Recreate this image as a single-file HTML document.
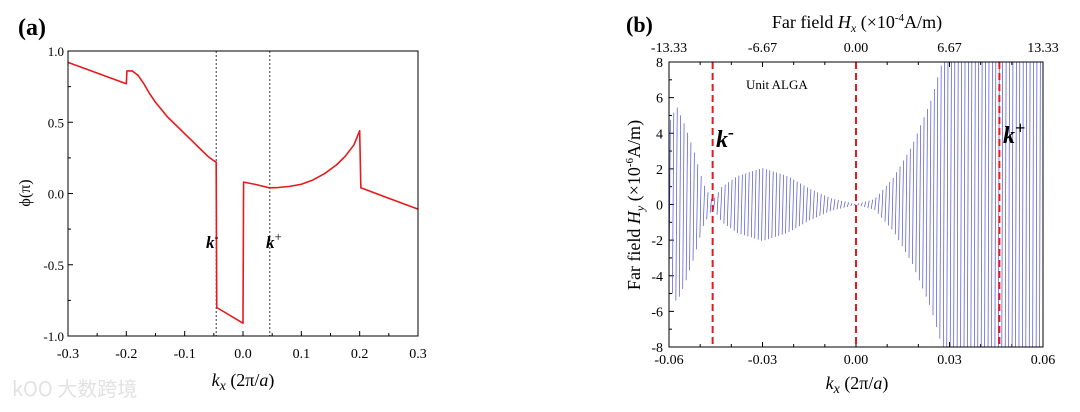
<!DOCTYPE html>
<html><head><meta charset="utf-8"><style>
html,body{margin:0;padding:0;background:#fff;width:1080px;height:412px;overflow:hidden;}
svg{display:block;font-family:"Liberation Serif",serif;overflow:hidden;}
</style></head><body>
<svg width="1080" height="412" viewBox="0 0 1080 412" id="svg">
<text x="18" y="35" font-size="24" font-weight="bold">(a)</text>
<text x="626" y="32" font-size="22" font-weight="bold">(b)</text>
<g id="ga"></g>
<g id="gb"></g>
<text x="12" y="396" font-size="20" fill="#e2e2e2" font-family="'Noto Sans CJK SC',sans-serif">kOO 大数跨境</text>
</svg>
<script>
const NS="http://www.w3.org/2000/svg";
// ---- chart (a) data ----
const aK=[-0.3,-0.2,-0.199,-0.19,-0.18,-0.17,-0.16,-0.15,-0.14,-0.13,-0.12,-0.11,-0.1,-0.09,-0.08,-0.07,-0.06,-0.05,-0.046,-0.045,0,0.001,0.02,0.045,0.06,0.08,0.1,0.12,0.14,0.16,0.175,0.19,0.2,0.202,0.3];
const aPhi=[0.92,0.77,0.86,0.86,0.83,0.77,0.70,0.64,0.59,0.54,0.50,0.46,0.42,0.38,0.34,0.30,0.26,0.23,0.22,-0.8,-0.91,0.08,0.065,0.04,0.042,0.05,0.065,0.095,0.14,0.2,0.26,0.34,0.44,0.04,-0.11];
const aXTicks=[-0.3,-0.2,-0.1,0.0,0.1,0.2,0.3];
const aXTickLabels=["-0.3","-0.2","-0.1","0.0","0.1","0.2","0.3"];
const aYTicks=[1,0.5,0,-0.5,-1];
const aYTickLabels=["1.0","0.5","0.0","-0.5","-1.0"];
const aMarkers=[-0.046,0.046];
// ---- chart (b) data ----
const bEnvK=[-0.06,-0.0575,-0.055,-0.052,-0.049,-0.046,-0.043,-0.038,-0.03,-0.022,-0.015,-0.008,0,0.006,0.012,0.018,0.024,0.028,0.035,0.06];
const bEnvA=[4.6,5.5,4.5,3.0,1.2,0.2,1.0,1.6,2.05,1.6,0.9,0.35,0.02,0.3,1.5,3.3,5.8,8.2,11,14];
const bXTicks=[-0.06,-0.03,0,0.03,0.06];
const bXTickLabels=["-0.06","-0.03","0.00","0.03","0.06"];
const bTopTickLabels=["-13.33","-6.67","0.00","6.67","13.33"];
const bYTicks=[8,6,4,2,0,-2,-4,-6,-8];
const bYTickLabels=["8","6","4","2","0","-2","-4","-6","-8"];
const bMarkers=[-0.046,0,0.046];
const bSpacing=0.0011;

function el(parent,tag,attrs,name,text){const e=document.createElementNS(NS,tag);for(const k in attrs)e.setAttribute(k,attrs[k]);


if(text!==undefined)e.textContent=text;parent.appendChild(e);return e;}
function rich(parent,attrs,name,parts){const t=el(parent,'text',attrs,name);parts.forEach(p=>{const s=document.createElementNS(NS,'tspan');s.textContent=p[0];if(p[1])for(const k in p[1])s.setAttribute(k,p[1][k]);t.appendChild(s);});return t;}

// chart a
(function(){
const g=document.getElementById('ga');
const L=68,R=418,T=51,B=336;
const x=v=>L+(v+0.3)/0.6*(R-L), y=v=>T+(1-v)/2*(B-T);
for(let v=-0.3;v<=0.3001;v+=0.05){const big=Math.abs(Math.round(v*10)-v*10)<1e-6;el(g,'line',{x1:x(v),x2:x(v),y1:B,y2:B-(big?5:3),stroke:'#000','stroke-width':1},'x-tick');}
for(let v=-1;v<=1.001;v+=0.25){const big=Math.abs(Math.round(v*2)-v*2)<1e-6;el(g,'line',{x1:L,x2:L+(big?5:3),y1:y(v),y2:y(v),stroke:'#000','stroke-width':1},'y-tick');}
aXTicks.forEach((v,i)=>el(g,'text',{x:x(v),y:B+22,'font-size':14,'text-anchor':'middle'},'x-tick-label',aXTickLabels[i]));
aYTicks.forEach((v,i)=>el(g,'text',{x:L-4,y:y(v)+5,'font-size':13,'text-anchor':'end'},'y-tick-label',aYTickLabels[i]));
aMarkers.forEach(v=>el(g,'line',{x1:x(v),x2:x(v),y1:T,y2:B,stroke:'#000','stroke-width':0.8,'stroke-dasharray':'2,2'},'k-marker-line'));
el(g,'polyline',{points:aK.map((k,i)=>x(k)+','+y(aPhi[i])).join(' '),fill:'none',stroke:'#e8191c','stroke-width':1.6,'stroke-linejoin':'round'},'phase-curve');
el(g,'rect',{x:L,y:T,width:R-L,height:B-T,fill:'none',stroke:'#000','stroke-width':1},'plot-frame');
rich(g,{x:206,y:248,'font-size':17,'font-weight':'bold','font-style':'italic'},'k-minus-label',[['k'],['-',{dy:-7,'font-size':12}]]);
rich(g,{x:266,y:248,'font-size':17,'font-weight':'bold','font-style':'italic'},'k-plus-label',[['k'],['+',{dy:-7,'font-size':13,'font-weight':'normal','font-style':'normal'}]]);
rich(g,{x:243,y:386,'font-size':18,'text-anchor':'middle'},'x-axis-title',[['k',{'font-style':'italic'}],['x',{'font-style':'italic',dy:4,'font-size':14}],[' (2π/',{dy:-4}],['a',{'font-style':'italic'}],[')']]);
el(g,'text',{x:0,y:0,'font-size':16,'text-anchor':'middle',transform:'translate(30,193) rotate(-90)'},'y-axis-title','ϕ(π)');
})();

// chart b
(function(){
const g=document.getElementById('gb');
const L=669,R=1043,T=62,B=347;
const x=v=>L+(v+0.06)/0.12*(R-L), y=v=>T+(8-v)/16*(B-T);
const defs=el(g,'defs',{},'defs');
const cp=el(defs,'clipPath',{id:'cb'},'clip');
el(cp,'rect',{x:L,y:T,width:R-L,height:B-T},'clip-rect');
for(let v=-0.06;v<=0.0601;v+=0.01){const big=Math.abs(Math.round(v*100/3)-v*100/3)<1e-6;
el(g,'line',{x1:x(v),x2:x(v),y1:B,y2:B-(big?5:3),stroke:'#000','stroke-width':1},'x-tick');
el(g,'line',{x1:x(v),x2:x(v),y1:T,y2:T+(big?5:3),stroke:'#000','stroke-width':1},'top-tick');}
for(let v=-8;v<=8;v+=1){el(g,'line',{x1:L,x2:L+(v%2===0?5:3),y1:y(v),y2:y(v),stroke:'#000','stroke-width':1},'y-tick');}
bXTicks.forEach((v,i)=>el(g,'text',{x:x(v),y:B+17,'font-size':14,'text-anchor':'middle'},'x-tick-label',bXTickLabels[i]));
bXTicks.forEach((v,i)=>el(g,'text',{x:x(v),y:T-10,'font-size':14,'text-anchor':'middle'},'top-tick-label',bTopTickLabels[i]));
bYTicks.forEach((v,i)=>el(g,'text',{x:L-6,y:y(v)+5,'font-size':14,'text-anchor':'end'},'y-tick-label',bYTickLabels[i]));
function env(k){for(let i=0;i<bEnvK.length-1;i++){if(k<=bEnvK[i+1]){const t=(k-bEnvK[i])/(bEnvK[i+1]-bEnvK[i]);return bEnvA[i]+t*(bEnvA[i+1]-bEnvA[i]);}}return bEnvA[bEnvA.length-1];}
const gl=el(g,'g',{'clip-path':'url(#cb)'},'field-trace');
let d='';
for(let k=-0.06;k<0.0605;k+=bSpacing){const a=env(k),a2=env(k+bSpacing*0.4);d+='M'+x(k).toFixed(2)+','+y(-a).toFixed(2)+'L'+x(k+bSpacing*0.4).toFixed(2)+','+y(a2).toFixed(2);}
el(gl,'path',{d:d,fill:'none',stroke:'#4a4fd6','stroke-width':0.7},'field-oscillation');
bMarkers.forEach(v=>el(g,'line',{x1:x(v),x2:x(v),y1:T,y2:B,stroke:'#e8191c','stroke-width':2,'stroke-dasharray':'7,4'},'k-marker-line'));
el(g,'rect',{x:L,y:T,width:R-L,height:B-T,fill:'none',stroke:'#000','stroke-width':1},'plot-frame');
el(g,'text',{x:746,y:89,'font-size':13},'unit-label','Unit ALGA');
rich(g,{x:716,y:147,'font-size':24,'font-weight':'bold','font-style':'italic'},'k-minus-label',[['k'],['-',{dy:-9,'font-size':18}]]);
rich(g,{x:1003,y:143,'font-size':24,'font-weight':'bold','font-style':'italic'},'k-plus-label',[['k'],['+',{dy:-9,'font-size':18}]]);
rich(g,{x:857,y:389,'font-size':18,'text-anchor':'middle'},'x-axis-title',[['k',{'font-style':'italic'}],['x',{'font-style':'italic',dy:4,'font-size':14}],[' (2π/',{dy:-4}],['a',{'font-style':'italic'}],[')']]);
rich(g,{x:857,y:28,'font-size':18,'text-anchor':'middle'},'top-axis-title',[['Far field '],['H',{'font-style':'italic'}],['x',{'font-style':'italic',dy:4,'font-size':12}],[' (×10',{dy:-4}],['-4',{dy:-7,'font-size':11}],['A/m)',{dy:7}]]);
rich(g,{x:0,y:0,'font-size':18,'text-anchor':'middle',transform:'translate(640,205) rotate(-90)'},'y-axis-title',[['Far field '],['H',{'font-style':'italic'}],['y',{'font-style':'italic',dy:4,'font-size':12}],[' (×10',{dy:-4}],['-6',{dy:-7,'font-size':11}],['A/m)',{dy:7}]]);
})();
</script>
</body></html>
